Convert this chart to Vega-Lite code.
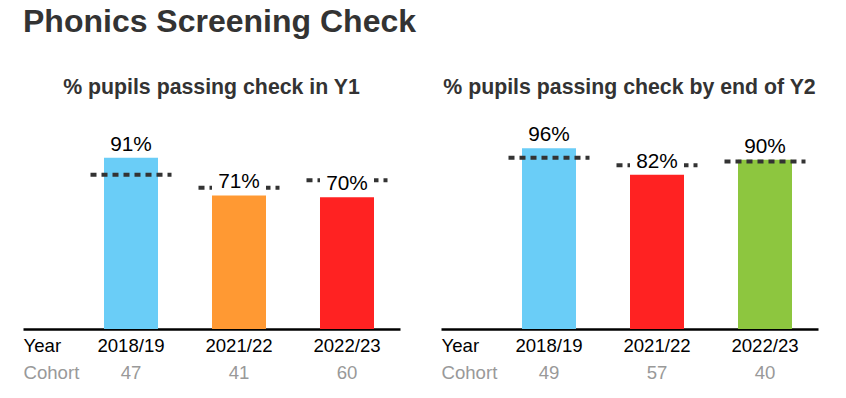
{
  "$schema": "https://vega.github.io/schema/vega-lite/v6.json",
  "padding": {"left": 23, "top": 5, "right": 5, "bottom": 5},
  "background": "white",
  "title": {"text": "Phonics Screening Check", "anchor": "start", "fontSize": 32, "fontWeight": "bold", "font": "Liberation Sans", "color": "#333333", "offset": 38},
  "spacing": 41,
  "config": {
    "view": {"stroke": null},
    "font": "Liberation Sans",
    "title": {"fontSize": 21.3, "fontWeight": "bold", "color": "#333333", "anchor": "middle", "offset": 24, "frame": "group"}
  },
  "hconcat": [
    {
      "title": "% pupils passing check in Y1",
      "width": 377,
      "height": 207,
      "data": {"values": [
        {"year": "2018/19", "pct": 0.91, "nat": 0.82, "cohort": "47", "rating": "Significantly above national"},
        {"year": "2021/22", "pct": 0.71, "nat": 0.75, "cohort": "41", "rating": "Below national"},
        {"year": "2022/23", "pct": 0.70, "nat": 0.79, "cohort": "60", "rating": "Significantly below national"}
      ]},
      "resolve": {"scale": {"x": "independent"}, "axis": {"x": "independent"}},
      "layer": [
        {
          "mark": {"type": "bar"},
          "encoding": {
            "x": {"field": "year", "type": "nominal", "sort": null,
              "scale": {"type": "band", "paddingInner": 0.5, "paddingOuter": 0.4954, "align": 0.757},
              "axis": {"orient": "bottom", "title": "Year", "titleX": 0, "titleY": 22, "titleAlign": "left", "titleBaseline": "alphabetic", "titleAngle": 0, "titleFontSize": 18.6, "titleFontWeight": "normal", "titleColor": "#000000", "labelFontSize": 18.6, "labelColor": "#000000", "labelBaseline": "alphabetic", "labelPadding": 22, "labelAngle": 0, "ticks": false, "tickSize": 0, "domainColor": "#000000", "domainWidth": 2.5, "grid": false}},
            "y": {"field": "pct", "type": "quantitative", "scale": {"domain": [0, 1.1]}, "axis": null},
            "color": {"field": "rating", "type": "nominal", "legend": null,
              "scale": {"domain": ["Significantly above national", "In line with national", "Below national", "Significantly below national"], "range": ["#6ACDF7", "#8DC63F", "#FF9933", "#FF2222"]}}
          }
        },
        {
          "mark": {"type": "rule", "color": "#333333", "strokeWidth": 4, "strokeDash": [6, 5]},
          "encoding": {
            "x": {"field": "cohort", "type": "nominal", "sort": null, "bandPosition": -0.25,
              "scale": {"type": "band", "paddingInner": 0.5, "paddingOuter": 0.4954, "align": 0.757},
              "axis": {"orient": "bottom", "title": "Cohort", "titleX": 0, "titleY": 49, "titleAlign": "left", "titleBaseline": "alphabetic", "titleAngle": 0, "titleFontSize": 18.6, "titleFontWeight": "normal", "titleColor": "#999999", "labelFontSize": 18.6, "labelColor": "#999999", "labelBaseline": "alphabetic", "labelPadding": 49, "labelAngle": 0, "ticks": false, "tickSize": 0, "domain": false, "grid": false}},
            "x2": {"field": "cohort", "bandPosition": 1.25},
            "y": {"field": "nat", "type": "quantitative", "scale": {"domain": [0, 1.1]}, "axis": null}
          }
        },
        {
          "mark": {"type": "bar", "color": "white", "yOffset": -3, "y2Offset": -24, "clip": true},
          "encoding": {
            "x": {"field": "year", "type": "nominal", "sort": null,
              "scale": {"type": "band", "paddingInner": 0.5, "paddingOuter": 0.4954, "align": 0.757}, "axis": null},
            "y": {"field": "pct", "type": "quantitative", "scale": {"domain": [0, 1.1]}, "axis": null},
            "y2": {"field": "pct"}
          }
        },
        {
          "mark": {"type": "text", "fontSize": 20.8, "color": "#000000", "baseline": "alphabetic", "dy": -7, "clip": true},
          "encoding": {
            "x": {"field": "year", "type": "nominal", "sort": null, "bandPosition": 0.5,
              "scale": {"type": "band", "paddingInner": 0.5, "paddingOuter": 0.4954, "align": 0.757}, "axis": null},
            "y": {"field": "pct", "type": "quantitative", "scale": {"domain": [0, 1.1]}, "axis": null},
            "text": {"field": "pct", "type": "quantitative", "format": ".0%"}
          }
        }
      ]
    },
    {
      "title": "% pupils passing check by end of Y2",
      "width": 377,
      "height": 207,
      "data": {"values": [
        {"year": "2018/19", "pct": 0.96, "nat": 0.91, "cohort": "49", "rating": "Significantly above national"},
        {"year": "2021/22", "pct": 0.82, "nat": 0.87, "cohort": "57", "rating": "Significantly below national"},
        {"year": "2022/23", "pct": 0.90, "nat": 0.89, "cohort": "40", "rating": "In line with national"}
      ]},
      "resolve": {"scale": {"x": "independent"}, "axis": {"x": "independent"}},
      "layer": [
        {
          "mark": {"type": "bar"},
          "encoding": {
            "x": {"field": "year", "type": "nominal", "sort": null,
              "scale": {"type": "band", "paddingInner": 0.5, "paddingOuter": 0.4954, "align": 0.757},
              "axis": {"orient": "bottom", "title": "Year", "titleX": 0, "titleY": 22, "titleAlign": "left", "titleBaseline": "alphabetic", "titleAngle": 0, "titleFontSize": 18.6, "titleFontWeight": "normal", "titleColor": "#000000", "labelFontSize": 18.6, "labelColor": "#000000", "labelBaseline": "alphabetic", "labelPadding": 22, "labelAngle": 0, "ticks": false, "tickSize": 0, "domainColor": "#000000", "domainWidth": 2.5, "grid": false}},
            "y": {"field": "pct", "type": "quantitative", "scale": {"domain": [0, 1.1]}, "axis": null},
            "color": {"field": "rating", "type": "nominal", "legend": null,
              "scale": {"domain": ["Significantly above national", "In line with national", "Below national", "Significantly below national"], "range": ["#6ACDF7", "#8DC63F", "#FF9933", "#FF2222"]}}
          }
        },
        {
          "mark": {"type": "rule", "color": "#333333", "strokeWidth": 4, "strokeDash": [6, 5]},
          "encoding": {
            "x": {"field": "cohort", "type": "nominal", "sort": null, "bandPosition": -0.25,
              "scale": {"type": "band", "paddingInner": 0.5, "paddingOuter": 0.4954, "align": 0.757},
              "axis": {"orient": "bottom", "title": "Cohort", "titleX": 0, "titleY": 49, "titleAlign": "left", "titleBaseline": "alphabetic", "titleAngle": 0, "titleFontSize": 18.6, "titleFontWeight": "normal", "titleColor": "#999999", "labelFontSize": 18.6, "labelColor": "#999999", "labelBaseline": "alphabetic", "labelPadding": 49, "labelAngle": 0, "ticks": false, "tickSize": 0, "domain": false, "grid": false}},
            "x2": {"field": "cohort", "bandPosition": 1.25},
            "y": {"field": "nat", "type": "quantitative", "scale": {"domain": [0, 1.1]}, "axis": null}
          }
        },
        {
          "mark": {"type": "bar", "color": "white", "yOffset": -3, "y2Offset": -24, "clip": true},
          "encoding": {
            "x": {"field": "year", "type": "nominal", "sort": null,
              "scale": {"type": "band", "paddingInner": 0.5, "paddingOuter": 0.4954, "align": 0.757}, "axis": null},
            "y": {"field": "pct", "type": "quantitative", "scale": {"domain": [0, 1.1]}, "axis": null},
            "y2": {"field": "pct"}
          }
        },
        {
          "mark": {"type": "text", "fontSize": 20.8, "color": "#000000", "baseline": "alphabetic", "dy": -7, "clip": true},
          "encoding": {
            "x": {"field": "year", "type": "nominal", "sort": null, "bandPosition": 0.5,
              "scale": {"type": "band", "paddingInner": 0.5, "paddingOuter": 0.4954, "align": 0.757}, "axis": null},
            "y": {"field": "pct", "type": "quantitative", "scale": {"domain": [0, 1.1]}, "axis": null},
            "text": {"field": "pct", "type": "quantitative", "format": ".0%"}
          }
        }
      ]
    }
  ]
}
